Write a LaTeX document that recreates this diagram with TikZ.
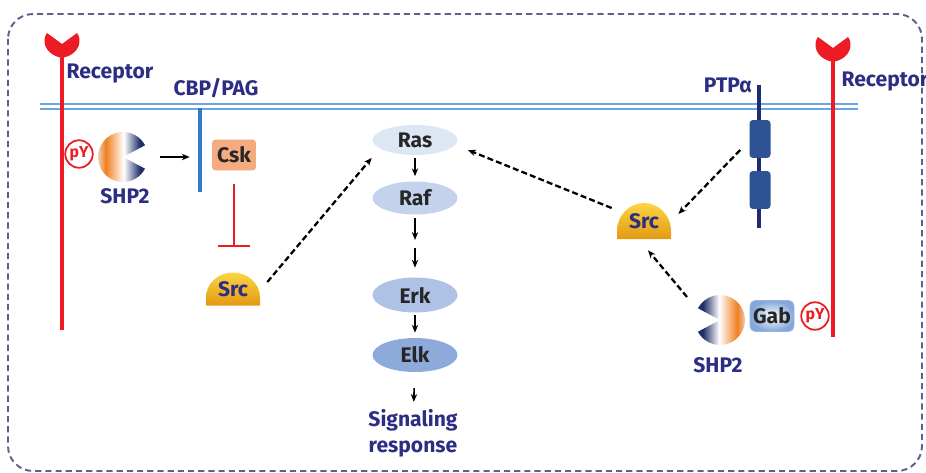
\documentclass[tikz,border=0pt]{standalone}
\usepackage{fontspec}
\setmainfont{Fira Sans}
\usetikzlibrary{shapes.geometric,arrows.meta}
\definecolor{labelblue}{HTML}{2B2E83}
\definecolor{rcpred}{HTML}{EC1C24}
\definecolor{membblue}{HTML}{6CA6DE}
\definecolor{cbpblue}{HTML}{2F7BC3}
\definecolor{ptpnavy}{HTML}{1C2C6E}
\definecolor{ptpblock}{HTML}{2D5395}
\definecolor{cskfill}{HTML}{F4AB80}
\definecolor{srctop}{HTML}{FBD546}
\definecolor{srcbot}{HTML}{E39A10}
\definecolor{shporange}{HTML}{F07F1E}
\definecolor{shpnavy}{HTML}{1E2F6B}
\definecolor{gabblue}{HTML}{6E98D3}
\definecolor{framegray}{HTML}{5D6189}
\definecolor{rasfill}{HTML}{DDE7F3}
\definecolor{raffill}{HTML}{C3D3EC}
\definecolor{erkfill}{HTML}{AEC2E5}
\definecolor{elkfill}{HTML}{8EAADB}
\pgfdeclarehorizontalshading{shpright}{100bp}{color(0bp)=(gray!15); color(26bp)=(gray!15);
  color(36bp)=(shporange); color(54bp)=(white); color(70bp)=(shpnavy); color(100bp)=(shpnavy)}
\pgfdeclarehorizontalshading{shpleft}{100bp}{color(0bp)=(shpnavy); color(30bp)=(shpnavy);
  color(46bp)=(white); color(64bp)=(shporange); color(74bp)=(gray!15); color(100bp)=(gray!15)}
\newcommand{\rcphead}[1]{
  \begin{scope}[shift={(#1)}]
    \fill[rcpred] (0,-1) -- (15,-12) .. controls (20,-6) and (19,9) .. (0,13)
      .. controls (-19,9) and (-20,-6) .. (-15,-12) -- cycle;
  \end{scope}
}
\newcommand{\shpball}[4]{
  \begin{scope}[shift={(#2)}]
    \shade[shading=#3] (0,0) -- (#4+28:25) arc[start angle=#4+28, end angle=#4+332, radius=25] -- cycle;
  \end{scope}
  \node[circle, minimum size=1cm, inner sep=0] (#1) at (#2) {};
}
\newcommand{\srcdome}[3]{
  \begin{scope}[shift={(#2)}]
    \shade[top color=srctop, bottom color=srcbot] (-27,#3) -- (-27,#3-8)
      arc[start angle=180, end angle=360, x radius=27, y radius=2*#3-8] -- (27,#3) -- cycle;
  \end{scope}
  \node[text=labelblue, minimum width=1.08cm, minimum height=2*#3*0.02cm] (#1) at (#2) {Src};
}

\begin{document}
\begin{tikzpicture}[
  x=0.02cm, y=-0.02cm,
  every node/.style={font=\bfseries\fontsize{12}{15}\selectfont, inner sep=1pt},
  lbl/.style={text=labelblue},
  kinase/.style={ellipse, minimum width=1.7cm, text=black!85},
  pyc/.style={circle, draw=rcpred, line width=1pt, fill=white, text=rcpred,
    minimum size=0.55cm, inner sep=0, font=\bfseries\fontsize{9}{10}\selectfont},
  ptpbox/.style={fill=ptpblock, rounded corners=2pt, minimum width=0.42cm,
    minimum height=0.76cm, inner sep=0},
  sig/.style={-{Stealth[length=4.5pt,width=3.6pt]}, line width=0.9pt},
  dsig/.style={sig, line width=1.3pt, dash pattern=on 3.4pt off 1.8pt},
  ]
  \useasboundingbox (0,0) rectangle (926,473);
  \draw[framegray, line width=1.1pt, dash pattern=on 3.5pt off 2.3pt, rounded corners=0.5cm]
    (8,14) rectangle (922,471);

  \draw[membblue, line width=1.2pt] (40,104) -- (858,104) (40,109) -- (858,109);

  \draw[rcpred, line width=2pt] (62,52) -- (62,330);
  \rcphead{62,45}
  \draw[rcpred, line width=2pt] (833,56) -- (833,337);
  \rcphead{833,49}
  \node[lbl] (rcpL) at (110,74) {Receptor};
  \node[lbl] (rcpR) at (885,82) {Receptor};

  \node[fill=cbpblue, minimum width=0.08cm, minimum height=1.68cm, inner sep=0] (cbp) at (200,150) {};
  \node[lbl] (cbplbl) at (216,88) {CBP/PAG};

  \draw[ptpnavy, line width=2.2pt] (759,85) -- (759,228);
  \node[ptpbox] (ptpA) at (760,139) {};
  \node[ptpbox] (ptpB) at (760,190) {};
  \node[lbl] (ptplbl) at (728,85) {PTPα};

  \shpball{shpL}{123,157}{shpright}{0}
  \shpball{shpR}{720,320}{shpleft}{180}
  \node[lbl] (shpLlbl) at (125,196) {SHP2};
  \node[lbl] (shpRlbl) at (718,365) {SHP2};
  \node[pyc] (pyL) at (79,154) {pY};
  \node[pyc] (pyR) at (815,316) {pY};
  \node[shade, inner color=white, outer color=gabblue!85, draw=gabblue!70, line width=0.4pt,
    rounded corners=3pt, minimum width=0.88cm, minimum height=0.62cm, text=black!85] (gab) at (772,316) {Gab};

  \node[fill=cskfill, rounded corners=2pt, minimum width=0.88cm, minimum height=0.62cm,
    text=black!85] (csk) at (234,155) {Csk};
  \srcdome{srcL}{233,289}{16.5}
  \srcdome{srcR}{644,221}{18}

  \node[kinase, fill=rasfill, minimum height=0.6cm] (ras) at (415,140) {Ras};
  \node[kinase, fill=raffill, minimum height=0.66cm] (raf) at (415,198) {Raf};
  \coordinate (mek) at (415,244);
  \node[kinase, fill=erkfill, minimum height=0.7cm] (erk) at (415,295) {Erk};
  \node[kinase, fill=elkfill, minimum height=0.68cm] (elk) at (415,355) {Elk};
  \node[lbl, align=center] (resp) at (413,433) {Signaling\\response};

  \draw[sig, shorten <=1.7pt, shorten >=2.8pt] (ras) -- (raf);
  \draw[sig, shorten <=1.7pt, shorten >=2.3pt] (raf) -- (mek);
  \draw[sig, shorten <=2.3pt, shorten >=5.4pt] (mek) -- (erk);
  \draw[sig, shorten <=1.5pt, shorten >=2.8pt] (erk) -- (elk);
  \draw[sig, shorten <=9pt, shorten >=2.8pt] (elk) -- (resp);

  \draw[sig, shorten <=6.8pt, shorten >=4.5pt] (shpL.east) -- (shpL.east -| cbp.west);
  \draw[rcpred, line width=0.9pt, -{Bar[width=0.64cm]}, shorten <=7.7pt, shorten >=14.5pt]
    (csk.south) -- (csk.south |- srcL.north);

  \draw[dsig] ([shift={(7,-7)}]srcL.east) -- ([shift={(-13,7)}]ras.south west);
  \draw[dsig] ([shift={(-5,-13)}]srcR.west) -- ([shift={(10,10)}]ras.east);
  \draw[dsig] ([shift={(-9,11)}]ptpA.west) -- ([shift={(7,-7)}]srcR.east);
  \draw[dsig] ([shift={(-33,-23)}]shpR.center) -- ([shift={(4,11)}]srcR.south);
\end{tikzpicture}
\end{document}
